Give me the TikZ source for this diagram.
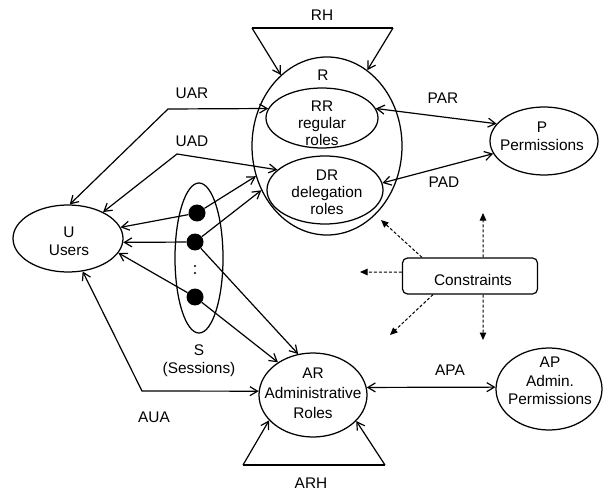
\documentclass[tikz,border=0pt]{standalone}
\usepackage{fontspec}
\setmainfont{Liberation Sans}
\usetikzlibrary{shapes.geometric,arrows.meta}
\begin{document}
\begin{tikzpicture}[x=1bp,y=-1bp,
  lw/.style={line width=1.2bp},
  ell/.style={ellipse,draw,line width=1.25bp,inner sep=0pt},
  txt/.style={font=\fontsize{15.4bp}{18bp}\selectfont,align=center,inner sep=0pt},
  arr/.style={lw,-{Straight Barb[length=7.5bp,width=9bp,line width=1.2bp]}},
  darr/.style={lw,{Straight Barb[length=7.5bp,width=9bp,line width=1.2bp]}-{Straight Barb[length=7.5bp,width=9bp,line width=1.2bp]}},
  dasharrow/.style={line width=1bp,dash pattern=on 3bp off 2bp,-{Triangle[length=7.5bp,width=6.5bp]}},
  sdot/.style={circle,fill=black,minimum size=17bp,inner sep=0pt},
  cbox/.style={draw,line width=1.2bp,rounded corners=5bp,minimum width=135bp,minimum height=36bp,inner sep=0pt}
]
\useasboundingbox (0,0) rectangle (603,493);

% ellipses
\node[ell,minimum width=150bp,minimum height=178bp] (R) at (327,146) {};
\node[ell,minimum width=112bp,minimum height=60bp] (RR) at (322,118) {};
\node[ell,minimum width=116bp,minimum height=68bp] (DR) at (325,190) {};
\node[ell,minimum width=108bp,minimum height=68bp] (P) at (544,141) {};
\node[ell,minimum width=110bp,minimum height=67bp] (U) at (68,238.5) {};
\node[ell,minimum width=48bp,minimum height=150bp] (S) at (199,258) {};
\node[ell,minimum width=108bp,minimum height=84bp] (AR) at (313,395) {};
\node[ell,minimum width=106bp,minimum height=82bp] (AP) at (549,389) {};
\node[cbox] (C) at (470,276) {};

% texts
\node[txt] (tR) at (323,75) {R};
\node[txt,font=\fontsize{15.4bp}{17bp}\selectfont] (tRR) at (322,123) {RR\\regular\\roles};
\node[txt,font=\fontsize{15.4bp}{17bp}\selectfont] (tDR) at (327,192) {DR\\delegation\\roles};
\node[txt] (tP) at (542,136) {P\\Permissions};
\node[txt] (tU) at (69,241) {U\\Users};
\node[txt,font=\fontsize{15.4bp}{20bp}\selectfont] (tAR) at (313,393) {AR\\Administrative\\Roles};
\node[txt,font=\fontsize{15.4bp}{18.5bp}\selectfont] (tAP) at (550,381) {AP\\Admin.\\Permissions};
\node[txt] (tS) at (199,361) {S\\(Sessions)};
\node[txt] (tC) at (473,280) {Constraints};
\node[txt] (lRH) at (322,15) {RH};
\node[txt] (lUAR) at (192,93) {UAR};
\node[txt] (lUAD) at (192,141) {UAD};
\node[txt] (lPAR) at (443,98) {PAR};
\node[txt] (lPAD) at (444,182) {PAD};
\node[txt] (lAPA) at (450,370) {APA};
\node[txt] (lAUA) at (154,417) {AUA};
\node[txt] (lARH) at (311,483) {ARH};

% session dots
\node[sdot] (d1) at (197,213) {};
\node[sdot] (d2) at (195,242) {};
\node[sdot] (d3) at (195,297) {};
\node[circle,fill=black,inner sep=0pt,minimum size=2.2bp] (e1) at (195,266) {};
\node[circle,fill=black,inner sep=0pt,minimum size=2.2bp] (e2) at (195,273) {};

% RH
\coordinate (rhL) at (252,28);
\coordinate (rhR) at (393,28);
\draw[lw] (rhL) -- (rhR);
\draw[arr] (rhL) -- (R.123);
\draw[arr] (rhR) -- (R.62);

% ARH
\coordinate (arhL) at (243,465);
\coordinate (arhR) at (385,465);
\draw[lw] (arhL) -- (arhR);
\draw[arr] (arhL) -- (AR.210);
\draw[arr] (arhR) -- (AR.329);

% UAR, UAD, AUA
\coordinate (uarB) at (168,109);
\coordinate (uadB) at (177,154);
\coordinate (auaB) at (142,391);
\draw[darr] (U.87) -- (uarB) -- (RR.170);
\draw[darr] (U.37) -- (uadB) -- (DR.157);
\draw[darr] (U.-66) -- (auaB) -- (AR.176);

% PAR, PAD, APA
\draw[darr] (RR.10) -- (P.160);
\draw[darr] (DR.7) -- (P.194);
\draw[darr] (AR.8) -- (AP.178);

% sessions
\draw[arr] (d1) -- (U.12);
\draw[arr] (d2) -- (U.-4);
\draw[arr] (d3) -- (U.-16);
\draw[arr] (d1) -- (R.203);
\draw[arr] (d2) -- (R.214);
\draw[arr] (d2) -- (AR.110);
\draw[arr] (d3) -- (AR.137);

% constraints
\coordinate (cUp) at (483,213);
\coordinate (cDown) at (483,340);
\coordinate (cLeft) at (360,272);
\coordinate (cUL) at (381,220);
\coordinate (cDL) at (390,335);
\draw[dasharrow] ([xshift=13bp]C.north) -- (cUp);
\draw[dasharrow] ([xshift=13bp]C.south) -- (cDown);
\draw[dasharrow] ([yshift=4bp]C.west) -- (cLeft);
\draw[dasharrow] ([xshift=-48bp]C.north) -- (cUL);
\draw[dasharrow] ([xshift=-37bp]C.south) -- (cDL);
\end{tikzpicture}
\end{document}
